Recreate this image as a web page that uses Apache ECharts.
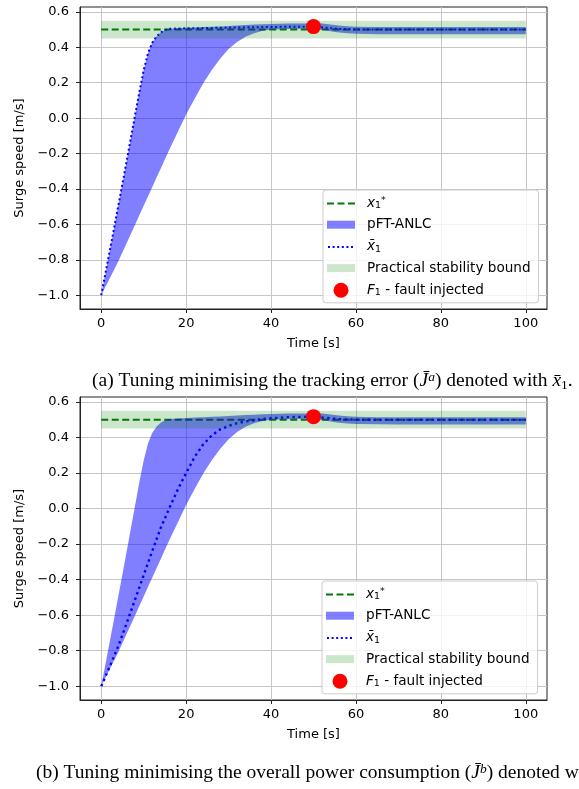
<!DOCTYPE html>
<html><head><meta charset="utf-8">
<script src="https://cdn.jsdelivr.net/npm/echarts@6/dist/echarts.min.js"></script>
<style>html,body{margin:0;padding:0;background:#fff}#c{width:579px;height:789px}</style>
</head><body><div id="c"></div>
<script>
// ---- tick labels ----
const timeTicks = [0, 20, 40, 60, 80, 100];
const speedTicks = [-1.0, -0.8, -0.6, -0.4, -0.2, 0.0, 0.2, 0.4, 0.6];

// ---- pFT-ANLC envelope (shared by both panels) ----
const bandTime  = [0,1,2,3,4,5,6,7,8,9,10,11,12,13,14,15,16,18,20,22,24,26,28,30,32,34,36,38,40,44,48,50,52,54,56,58,60,65,70,80,90,100];
const bandLower = [-1.0,-0.952,-0.905,-0.857,-0.81,-0.757,-0.705,-0.652,-0.6,-0.547,-0.495,-0.442,-0.39,-0.337,-0.285,-0.232,-0.18,-0.08,0.02,0.11,0.195,0.27,0.335,0.39,0.43,0.46,0.48,0.493,0.5,0.503,0.505,0.505,0.499,0.49,0.483,0.479,0.476,0.474,0.473,0.473,0.473,0.473];
const bandUpper = [-1.0,-0.875,-0.75,-0.625,-0.497,-0.37,-0.24,-0.11,0.02,0.15,0.27,0.365,0.425,0.46,0.483,0.497,0.504,0.507,0.51,0.512,0.514,0.516,0.518,0.52,0.523,0.526,0.528,0.53,0.532,0.534,0.535,0.536,0.534,0.529,0.523,0.519,0.516,0.514,0.514,0.514,0.514,0.514];

// ---- x̄1, panel (a): tracking-error tuning ----
const trackTime  = [0,1,2,3,4,5,6,7,8,9,10,11,12,13,14,15,16,18,20,25,30,35,40,45,50,52,54,56,58,60,65,70,80,90,100];
const trackSpeed = [-1.0,-0.875,-0.75,-0.625,-0.497,-0.37,-0.24,-0.11,0.02,0.15,0.27,0.365,0.425,0.46,0.483,0.497,0.504,0.506,0.507,0.509,0.511,0.513,0.515,0.516,0.517,0.513,0.508,0.504,0.502,0.5,0.5,0.5,0.5,0.5,0.5];

// ---- x̄1, panel (b): power-consumption tuning ----
const powerTime  = [0,2,4,6,8,10,12,14,16,18,20,22,24,26,28,30,32,34,36,38,40,44,48,50,52,54,56,58,60,65,70,80,90,100];
const powerSpeed = [-1.0,-0.89,-0.775,-0.645,-0.51,-0.375,-0.24,-0.11,0.0,0.105,0.2,0.29,0.36,0.41,0.445,0.465,0.48,0.49,0.497,0.503,0.508,0.514,0.516,0.517,0.512,0.507,0.503,0.501,0.5,0.499,0.499,0.499,0.499,0.499];

// ---- reference, stability bound, fault ----
const refTime = [0, 100];
const refSpeed = [0.5, 0.5];
const boundTime = [0, 100];
const boundLower = [0.45, 0.45];
const boundUpper = [0.55, 0.55];
const faultTime = [50];
const faultSpeed = [0.517];

// ---- texts ----
const yName = 'Surge speed [m/s]';
const xName = 'Time [s]';
const captionA = '{n|(a) Tuning minimising the tracking error (}{i|J\u0304}{sup|a}{n|) denoted with }{i|x\u0304}{sub|1}{n|.}';
const captionB = '{n|(b) Tuning minimising the overall power consumption (}{i|J\u0304}{sup|b}{n|) denoted w}';

const N_REF = 'x₁*', N_PFT = 'pFT-ANLC', N_BAR = 'x̄₁', N_BOUND = 'Practical stability bound', N_FAULT = 'F₁ - fault injected';
const LF = 13.6;
const legendRich = {
  n: {fontSize: LF, fontFamily: 'DejaVu Sans', color: '#000', lineHeight: 15},
  i: {fontSize: LF, fontFamily: 'DejaVu Sans', fontStyle: 'italic', color: '#000', lineHeight: 15},
  sub: {fontSize: 9.5, fontFamily: 'DejaVu Sans', color: '#000', lineHeight: 9, verticalAlign: 'bottom', padding: [6,0,0,0]},
  sup: {fontSize: 9.5, fontFamily: 'DejaVu Sans', color: '#000', lineHeight: 9, verticalAlign: 'top', padding: [0,0,3,0]}
};
const legendLabel = {};
legendLabel[N_REF] = '{i|x}{sub|1}{sup|*}';
legendLabel[N_PFT] = '{n|pFT-ANLC}';
legendLabel[N_BAR] = '{i|x\u0304}{sub|1}';
legendLabel[N_BOUND] = '{n|Practical stability bound}';
legendLabel[N_FAULT] = '{i|F}{sub|1}{n| - fault injected}';

const zip = (a, b) => a.map((v, k) => [v, b[k]]);
const minus = v => (v < 0 ? '\u2212' : '') + Math.abs(v).toFixed(1);
// legend handles (28x15 boxes)
const rectIcon = 'path://M0,0L0,0M0,3.5L28,3.5L28,11.5L0,11.5ZM28,15L28,15';
const dashIcon = 'path://M0,0L0,0M0,6.5L7,6.5L7,8.5L0,8.5ZM10.5,6.5L17.5,6.5L17.5,8.5L10.5,8.5ZM21,6.5L28,6.5L28,8.5L21,8.5ZM28,15L28,15';
const dotIcon = 'path://M0,0L0,0' + [1, 5.6, 10.2, 14.8, 19.4, 24].map(x =>
  'M' + x + ',6.5L' + (x + 2) + ',6.5L' + (x + 2) + ',8.5L' + x + ',8.5Z').join('') + 'M28,15L28,15';

const grids = [
  {left: 80, top: 7, width: 467, height: 302},
  {left: 80, top: 397, width: 467, height: 303}
];
const legendPos = [{left: 323, top: 190}, {left: 322, top: 581}];
const dotted = [[trackTime, trackSpeed], [powerTime, powerSpeed]];

const axisColor = '#222';
const gridColor = '#c6c6c6';
const xAxes = [], yAxes = [], series = [], legends = [];

function bandSeries(name, tArr, loArr, hiArr, color, ax, z) {
  return Object.assign({
    name: name, type: 'custom', z: z,
    data: tArr.map((t, k) => [t, loArr[k], hiArr[k]]),
    encode: {x: 0, y: [1, 2]},
    itemStyle: {color: color},
    renderItem: function (params, api) {
      if (params.dataIndex !== 0) return null;
      const pts = [];
      for (let k = 0; k < tArr.length; k++) pts.push(api.coord([tArr[k], hiArr[k]]));
      for (let k = tArr.length - 1; k >= 0; k--) pts.push(api.coord([tArr[k], loArr[k]]));
      return {type: 'polygon', shape: {points: pts}, style: {fill: color, stroke: null}};
    }
  }, ax);
}

grids.forEach((g, i) => {
  Object.assign(g, {show: true, borderColor: axisColor, borderWidth: 1, backgroundColor: 'transparent'});
  xAxes.push({
    type: 'value', gridIndex: i, min: -5, max: 105,
    name: xName, nameLocation: 'middle', nameGap: 28,
    nameTextStyle: {fontFamily: 'DejaVu Sans', fontSize: 13, color: '#000'},
    axisLine: {show: true, onZero: false, lineStyle: {color: axisColor, width: 1}},
    axisTick: {show: true, length: 4, customValues: timeTicks, lineStyle: {color: axisColor, width: 1}},
    axisLabel: {customValues: timeTicks, fontFamily: 'DejaVu Sans', fontSize: 13, color: '#000', margin: 8},
    splitLine: {show: true, lineStyle: {color: gridColor, width: 1}}
  });
  yAxes.push({
    type: 'value', gridIndex: i, min: -1.0775, max: 0.6275,
    name: yName, nameLocation: 'middle', nameGap: 45,
    nameTextStyle: {fontFamily: 'DejaVu Sans', fontSize: 13, color: '#000'},
    axisLine: {show: true, onZero: false, lineStyle: {color: axisColor, width: 1}},
    axisTick: {show: true, length: 4, customValues: speedTicks, lineStyle: {color: axisColor, width: 1}},
    axisLabel: {customValues: speedTicks, formatter: minus, fontFamily: 'DejaVu Sans', fontSize: 13, color: '#000', margin: 11},
    splitLine: {show: true, lineStyle: {color: gridColor, width: 1}}
  });
  const ax = {xAxisIndex: i, yAxisIndex: i};
  series.push(Object.assign({
    name: N_REF, type: 'line', symbol: 'none', showSymbol: false, data: zip(refTime, refSpeed),
    itemStyle: {color: '#007a00'},
    lineStyle: {color: '#007a00', width: 2, type: [7, 3.5]}, z: 2
  }, ax));
  series.push(bandSeries(N_PFT, bandTime, bandLower, bandUpper, 'rgba(0,0,255,0.5)', ax, 3));
  series.push(Object.assign({
    name: N_BAR, type: 'line', symbol: 'none', showSymbol: false, data: zip(dotted[i][0], dotted[i][1]),
    itemStyle: {color: '#0000ff'},
    lineStyle: {color: '#0000ff', width: i === 0 ? 2 : 2.4, type: i === 0 ? [2, 2.6] : [2.4, 3.4]}, z: 4
  }, ax));
  series.push(bandSeries(N_BOUND, boundTime, boundLower, boundUpper, 'rgba(0,128,0,0.2)', ax, 5));
  series.push(Object.assign({
    name: N_FAULT, type: 'scatter', symbol: 'circle', symbolSize: 15,
    data: zip(faultTime, faultSpeed), itemStyle: {color: '#ff0000', opacity: 1}, z: 6
  }, ax));
  legends.push({
    orient: 'vertical', left: legendPos[i].left, top: legendPos[i].top,
    itemWidth: 28, itemHeight: 15, itemGap: 6.2,
    padding: [5, 8, 5, 4],
    backgroundColor: 'rgba(255,255,255,0.8)', borderColor: '#cccccc', borderWidth: 1, borderRadius: 3,
    selectedMode: false,
    formatter: name => legendLabel[name],
    textStyle: {fontFamily: 'DejaVu Sans', fontSize: LF, color: '#000', lineHeight: 15, padding: [0, 0, 0, 7], rich: legendRich},
    data: [
      {name: N_REF, icon: dashIcon, itemStyle: {color: '#007a00'}},
      {name: N_PFT, icon: rectIcon},
      {name: N_BAR, icon: dotIcon, itemStyle: {color: '#0000ff'}},
      {name: N_BOUND, icon: rectIcon},
      {name: N_FAULT, icon: 'circle'}
    ]
  });
});

const CF = 19.5;
const capRich = {
  n: {fontFamily: 'Liberation Serif', fontWeight: 'normal', fontSize: CF, color: '#000', lineHeight: 22},
  i: {fontFamily: 'Liberation Serif', fontWeight: 'normal', fontStyle: 'italic', fontSize: CF, color: '#000', lineHeight: 22},
  sup: {fontFamily: 'Liberation Serif', fontWeight: 'normal', fontStyle: 'italic', fontSize: 13.5, color: '#000', lineHeight: 12, verticalAlign: 'top', padding: [0,0,6,0]},
  sub: {fontFamily: 'Liberation Serif', fontWeight: 'normal', fontSize: 13.5, color: '#000', lineHeight: 12, verticalAlign: 'bottom', padding: [6,0,0,0]}
};

const chart = echarts.init(document.getElementById('c'), null, {renderer: 'canvas'});
chart.setOption({
  animation: false,
  backgroundColor: '#ffffff',
  title: [
    {text: captionA, left: 92, top: 370, padding: 0, textStyle: {fontWeight: 'normal', rich: capRich}},
    {text: captionB, left: 36, top: 762, padding: 0, textStyle: {fontWeight: 'normal', rich: capRich}}
  ],
  grid: grids,
  xAxis: xAxes,
  yAxis: yAxes,
  legend: legends,
  series: series
});
</script></body></html>
